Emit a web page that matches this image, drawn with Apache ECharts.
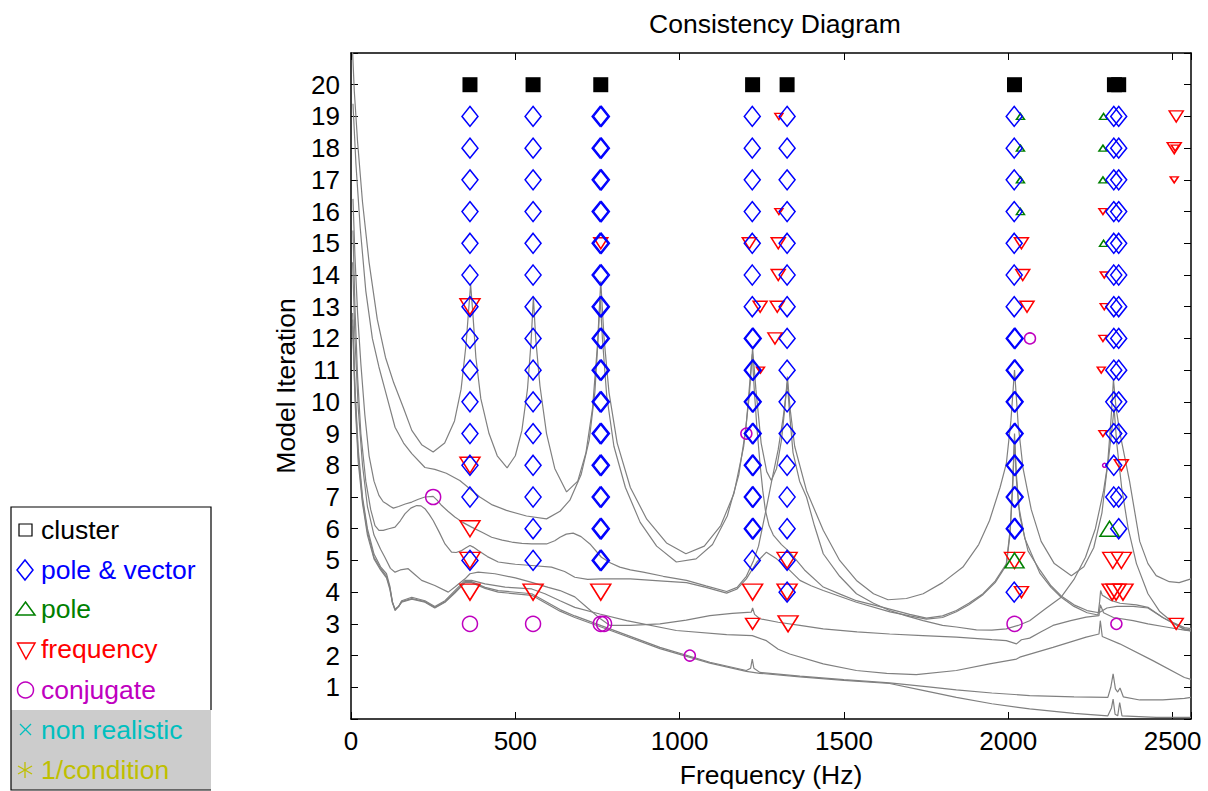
<!DOCTYPE html>
<html><head><meta charset="utf-8">
<script src="https://cdn.jsdelivr.net/npm/echarts@6/dist/echarts.min.js"></script>
<style>html,body{margin:0;padding:0;background:#fff}#c{width:1208px;height:791px}</style>
</head><body><div id="c"></div>
<script>
const FONT = '"Liberation Sans", Arial, Helvetica, sans-serif';

// ---- gray FRF curves: [frequency Hz, level in iteration units] ----
const frfCurve1 = [[3,21.5],[10,19.8],[20,18.2],[35,16.3],[55,14.4],[80,12.6],[105,11.4],[130,10.6],[160,9.8],[185,9.1],[215,8.65],[250,8.42],[285,8.7],[315,9.4],[335,10.4],[350,11.8],[358,12.9],[364,13.7],[370,12.9],[380,11.4],[395,10.1],[420,9],[445,8.3],[475,7.92],[500,8.3],[520,9.1],[537,10.4],[548,11.9],[555,13.3],[562,12],[575,10.5],[595,9],[620,7.9],[656,7.16],[690,7.5],[715,8.4],[735,9.8],[750,11.8],[760,13.8],[770,12],[785,10.3],[810,8.7],[850,7.3],[900,6.3],[960,5.55],[1019,5.21],[1075,5.45],[1125,6.1],[1165,7.1],[1195,8.6],[1212,10.2],[1222,11.7],[1232,10.4],[1248,8.7],[1265,7.8],[1279,7.52],[1295,7.9],[1310,8.8],[1321,9.9],[1328,10.8],[1336,9.8],[1350,8.6],[1386,7.2],[1437,5.95],[1487,5.0],[1538,4.37],[1590,3.95],[1634,3.76],[1690,3.8],[1741,3.95],[1800,4.3],[1862,4.79],[1910,5.5],[1943,6.26],[1975,7.3],[1994,8.05],[2008,9.4],[2019,11],[2030,9.3],[2045,7.9],[2070,6.6],[2100,5.6],[2140,4.9],[2192,4.52],[2230,4.8],[2260,5.4],[2285,6.5],[2302,8],[2313,9.5],[2320,10.7],[2328,9.8],[2340,9.0],[2369,7.5],[2400,5.6],[2425,4.9],[2450,4.52],[2490,4.33],[2520,4.3],[2556,4.42]];
const frfCurve2 = [[6,19.4],[15,17.5],[28,15.5],[45,13.5],[65,12],[85,11.1],[103,10.4],[134,9.2],[160,8.7],[185,8.37],[225,7.93],[255,7.87],[290,7.75],[331,7.52],[392,7.0],[430,6.75],[473,6.58],[534,6.4],[595,6.31],[636,6.55],[666,6.9],[700,7.7],[725,8.8],[742,10.3],[752,12],[758,13.3],[765,12],[778,10.2],[800,8.6],[835,7.3],[880,6.2],[930,5.45],[990,4.95],[1050,5.05],[1100,5.5],[1145,6.4],[1180,7.7],[1202,9.2],[1215,10.8],[1221,11.5],[1227,10.4],[1235,9.2],[1245,8.0],[1253,7.2],[1261,6.58],[1272,6.1],[1285,5.8],[1310,5.5],[1335,5.26],[1380,4.7],[1437,4.16],[1490,3.93],[1538,3.73],[1619,3.52],[1700,3.3],[1751,3.18],[1800,3.25],[1842,3.42],[1880,3.65],[1923,3.95],[1960,4.35],[1994,4.89],[2006,6.0],[2014,7.6],[2019,9.0],[2024,7.8],[2032,6.7],[2050,5.7],[2096,4.6],[2130,4.15],[2161,3.84],[2200,3.55],[2240,3.35],[2273,3.28],[2278,3.7],[2281,4.05],[2286,3.9],[2295,3.85],[2310,3.75],[2340,3.65],[2390,3.6],[2425,3.52],[2470,3.2],[2536,2.84],[2556,2.8]];
const frfCurve3 = [[6,16.4],[12,14.6],[20,12.8],[30,11.2],[42,9.6],[55,8.3],[70,7.5],[85,7.05],[98,6.85],[108,6.79],[120,6.7],[129,6.65],[145,6.7],[165,6.78],[185,6.84],[205,6.93],[225,7.0],[250,7.02],[262,6.9],[276,6.73],[295,6.55],[316,6.37],[340,6.2],[367,6.05],[400,5.88],[428,5.73],[460,5.64],[489,5.58],[520,5.54],[550,5.52],[595,5.52],[620,5.62],[636,5.73],[655,5.83],[676,5.86],[700,5.75],[727,5.52],[762,5.1],[790,4.92],[818,4.79],[850,4.7],[889,4.63],[950,4.5],[1021,4.37],[1080,4.2],[1143,4.02],[1175,4.15],[1203,4.5],[1225,5.0],[1240,5.45],[1261,6.5],[1280,7.5],[1300,8.5],[1315,9.5],[1323,10.2],[1328,10.6],[1334,9.7],[1345,8.4],[1365,7.5],[1386,7.0],[1410,6.1],[1437,5.21],[1487,4.5],[1538,3.95],[1590,3.65],[1639,3.42],[1690,3.25],[1741,3.1],[1800,2.95],[1842,2.9],[1903,2.81],[1950,2.8],[1994,2.84],[2030,2.95],[2065,3.1],[2110,3.45],[2161,3.84],[2200,4.4],[2235,5.1],[2265,6.0],[2290,7.2],[2305,8.2],[2316,9.2],[2322,9.8],[2330,8.7],[2345,7.3],[2365,6.0],[2390,4.9],[2425,3.95],[2460,3.4],[2500,3.05],[2536,2.88],[2556,2.85]];
const frfCurve4 = [[6,15.4],[12,13],[20,10.8],[30,9],[45,7.5],[60,6.6],[73,6.1],[85,5.95],[98,5.95],[115,6.0],[134,6.05],[150,6.25],[164,6.47],[182,6.65],[200,6.73],[213,6.72],[225,6.63],[238,6.45],[250,6.26],[268,5.9],[286,5.52],[306,5.26],[320,5.25],[337,5.31],[350,5.4],[362,5.47],[372,5.42],[387,5.31],[415,5.12],[448,4.95],[500,4.88],[550,4.84],[610,4.79],[650,4.65],[681,4.47],[720,4.4],[760,4.42],[850,4.42],[950,4.35],[1021,4.3],[1080,4.15],[1143,3.97],[1175,4.1],[1203,4.42],[1235,4.95],[1264,5.26],[1295,5.05],[1325,4.79],[1366,4.37],[1400,4.2],[1437,4.05],[1538,3.68],[1640,3.38],[1700,3.25],[1751,3.15],[1800,3.2],[1842,3.38],[1880,3.6],[1923,3.92],[1960,4.3],[1994,4.85],[2005,5.8],[2013,7.2],[2019,8.8],[2025,7.5],[2035,6.4],[2060,5.3],[2096,4.7],[2130,4.2],[2161,3.88],[2200,3.6],[2240,3.42],[2276,3.35],[2300,3.5],[2330,3.55],[2380,3.55],[2425,3.5],[2470,3.2],[2536,2.82],[2556,2.78]];
const frfCurve5 = [[5,14.4],[12,12],[22,9.8],[35,8],[50,6.7],[70,5.8],[90,5.35],[103,5.1],[120,4.75],[134,4.63],[150,4.7],[174,4.74],[195,4.55],[215,4.37],[255,4.21],[296,4.0],[316,4.16],[347,4.42],[362,4.58],[387,4.63],[438,4.58],[500,4.45],[550,4.31],[600,4.15],[636,4.05],[681,3.85],[720,3.5],[760,3.15],[788,2.95],[850,2.95],[940,3.0],[1020,3.12],[1092,3.26],[1160,3.33],[1218,3.37],[1222,3.5],[1228,3.3],[1244,3.16],[1300,3.05],[1366,2.95],[1437,2.84],[1540,2.75],[1639,2.68],[1740,2.63],[1842,2.58],[1950,2.5],[1994,2.47],[2025,2.37],[2040,2.5],[2065,2.55],[2100,2.75],[2136,2.95],[2190,3.1],[2237,3.21],[2276,3.26],[2280,3.6],[2290,3.35],[2320,3.2],[2380,3.1],[2425,3.0],[2480,2.9],[2536,2.8],[2556,2.78]];
const frfCurve6 = [[5,12.8],[12,10.5],[22,8.5],[35,7],[50,6],[70,5.2],[90,4.8],[108,4.58],[118,4.2],[126,3.7],[134,3.42],[145,3.55],[154,3.73],[185,3.84],[225,3.73],[255,3.55],[286,3.73],[316,4.05],[347,4.37],[367,4.37],[408,4.26],[469,4.16],[550,4.1],[590,3.95],[636,3.73],[681,3.52],[757,3.31],[839,3.1],[990,2.79],[1143,2.66],[1221,2.63],[1264,2.47],[1300,2.2],[1335,2.05],[1437,1.74],[1538,1.53],[1630,1.44],[1720,1.40],[1842,1.53],[1943,1.74],[2025,1.89],[2035,1.95],[2136,2.26],[2237,2.58],[2276,2.68],[2280,3.1],[2286,2.6],[2339,2.37],[2440,1.84],[2536,1.31],[2556,1.25]];
const frfCurve7 = [[5,12.6],[12,10.3],[22,8.3],[35,6.9],[50,5.9],[70,5.1],[90,4.75],[108,4.5],[118,4.15],[126,3.68],[134,3.45],[145,3.55],[154,3.7],[185,3.8],[225,3.7],[255,3.52],[286,3.7],[316,4.0],[347,4.33],[367,4.33],[408,4.15],[448,4.05],[550,3.95],[636,3.45],[681,3.25],[788,2.84],[940,2.26],[1092,1.79],[1203,1.53],[1216,1.6],[1221,1.89],[1226,1.6],[1244,1.47],[1366,1.35],[1500,1.24],[1639,1.14],[1750,1.02],[1842,0.92],[1950,0.82],[2065,0.74],[2200,0.7],[2303,0.68],[2312,1.0],[2319,1.42],[2326,0.95],[2333,0.85],[2340,0.98],[2350,0.7],[2400,0.6],[2470,0.6],[2536,0.65],[2556,0.68]];
const frfCurve8 = [[5,12.4],[12,10.1],[22,8.1],[35,6.8],[50,5.8],[70,5.05],[90,4.7],[108,4.45],[118,4.1],[126,3.66],[134,3.47],[145,3.55],[154,3.68],[185,3.78],[225,3.68],[255,3.5],[286,3.68],[316,3.97],[347,4.3],[367,4.3],[408,4.12],[448,4.0],[550,3.9],[636,3.4],[681,3.2],[788,2.8],[940,2.22],[1092,1.76],[1203,1.5],[1244,1.44],[1366,1.33],[1500,1.22],[1639,1.12],[1740,0.9],[1842,0.68],[1950,0.48],[2065,0.32],[2200,0.18],[2303,0.1],[2314,0.35],[2319,0.63],[2325,0.15],[2333,0.1],[2339,0.52],[2346,0.1],[2450,0.05],[2556,0.05]];

// ---- markers: [frequency Hz, model iteration] ----
const clusterPoints = [[362,20],[554,20],[760,20],[1222,20],[1327,20],[2019,20],[2323,20],[2336,20]];
const poleVectorColumns = [
  [362,  [19,18,17,16,15,14,13,12,11,10,9,8,7,5]],
  [554,  [19,18,17,16,15,14,13,12,11,10,9,8,7,6,5]],
  [758,  [19,18,17,16,15,14,13,12,11,10,9,8,7,6,5]],
  [762,  [19,18,17,16,15,14,13,12,11,10,9,8,7,6,5]],
  [1221, [19,18,17,16,15,14,13,12,11,10,9,8,7,6,5]],
  [1224, [12,11,10,9,8,7,6]],
  [1327, [19,18,17,16,15,14,13,12,11,10,9,8,7,6,5,4]],
  [2018, [19,18,17,16,15,14,13,12,11,10,9,8,7,6,4]],
  [2021, [12,11,10,9,8,7,6]],
  [2321, [19,18,17,16,15,14,13,12,11,10,9,8,7]],
  [2336, [19,18,17,16,15,14,13,12,11,10,9,7,6]]
];
const poleLarge = [[2019,5],[2308,6]];
const poleSmall = [[2037,19],[2037,18],[2037,17],[2037,16],[2290,19],[2288,18],[2288,17],[2290,15]];
const freqLarge = [[362,13],[362,8],[362,6],[362,5],[362,4],[554,4],[760,4],[1222,4],[1327,5],[1327,4],[1330,3],[2019,5],[2318,5],[2344,5],[2316,4],[2328,4],[2349,4]];
const freqMedium = [[760,15],[1212,15],[1245,13],[1222,3],[1300,15],[1300,14],[1297,13],[1290,12],[2040,15],[2044,14],[2057,13],[2040,4],[2344,8],[2511,19],[2505,18],[2511,3]];
const freqSmall = [[1246,11],[1302,19],[1302,16],[2288,16],[2292,14],[2292,13],[2288,12],[2283,11],[2288,9],[2508,18],[2505,17]];
const conjLarge = [[250,7],[362,3],[554,3],[760,3],[770,3],[2019,3]];
const conjMedium = [[1031,2],[1203,9],[2066,12],[2329,3]];
const conjTiny = [[2293,8]];

const legendLabels = ['cluster','pole & vector','pole','frequency','conjugate','non realistic','1/condition'];
const legendColors = ['#000000','#0000ff','#008000','#ff0000','#bf00bf','#00bfbf','#bfbf00'];

const poleVectorPoints = [];
poleVectorColumns.forEach(([f, rows]) => rows.forEach(r => poleVectorPoints.push([f, r])));

const curves = [frfCurve1,frfCurve2,frfCurve3,frfCurve4,frfCurve5,frfCurve6,frfCurve7,frfCurve8];
const series = curves.map((c, i) => ({
  type: 'line', name: 'frf' + (i + 1), data: c, symbol: 'none', silent: true, z: 1,
  lineStyle: { color: '#808080', width: 1.2 }, emphasis: { disabled: true }, animation: false
}));
function hollow(data, symbol, size, color, rot, z) {
  return { type: 'scatter', data, symbol, symbolSize: size, symbolRotate: rot || 0, silent: true, z: z,
    itemStyle: { color: 'rgba(0,0,0,0)', borderColor: color, borderWidth: 1.5, opacity: 1 },
    emphasis: { disabled: true }, animation: false };
}
series.push(hollow(freqLarge, 'triangle', [20, 16], '#ff0000', 180, 3));
series.push(hollow(freqMedium, 'triangle', [14, 11], '#ff0000', 180, 3));
series.push(hollow(freqSmall, 'triangle', [8, 6], '#ff0000', 180, 3));
series.push(hollow(conjLarge, 'circle', 15, '#bf00bf', 0, 4));
series.push(hollow(conjMedium, 'circle', 11, '#bf00bf', 0, 4));
series.push(hollow(conjTiny, 'circle', 4, '#bf00bf', 0, 4));
series.push(hollow(poleLarge, 'triangle', [19, 15], '#008000', 0, 5));
series.push(hollow(poleSmall, 'triangle', [8, 6], '#008000', 0, 5));
series.push(hollow(poleVectorPoints, 'diamond', [16, 20], '#0000ff', 0, 6));
series.push({ type: 'scatter', data: clusterPoints, symbol: 'rect', symbolSize: 15, silent: true, z: 7,
  itemStyle: { color: '#000', opacity: 1 }, emphasis: { disabled: true }, animation: false });

const axisCommon = {
  axisLine: { show: true, onZero: false, lineStyle: { color: '#000', width: 1.5 } },
  axisTick: { show: true, inside: true, length: 7, lineStyle: { color: '#000', width: 1 } },
  splitLine: { show: false }
};
const legendY = [530, 570, 609, 649, 690, 730, 770];
const graphics = [
  { type: 'rect', shape: { x: 11, y: 507, width: 200, height: 283 }, style: { fill: '#fff', stroke: null } },
  { type: 'rect', shape: { x: 11, y: 710, width: 200, height: 80 }, style: { fill: '#cccccc' } },
  { type: 'polyline', shape: { points: [[211, 710], [211, 507], [11, 507], [11, 790], [211, 790]] }, style: { stroke: '#000', lineWidth: 1.2, fill: null } },
  { type: 'rect', shape: { x: 19, y: 524, width: 13, height: 12 }, style: { fill: null, stroke: '#000', lineWidth: 1.2 } },
  { type: 'polygon', shape: { points: [[25, 560], [33, 570], [25, 580], [17, 570]] }, style: { fill: null, stroke: '#0000ff', lineWidth: 1.5 } },
  { type: 'polygon', shape: { points: [[25.5, 602], [35, 615], [16, 615]] }, style: { fill: null, stroke: '#008000', lineWidth: 1.5 } },
  { type: 'polygon', shape: { points: [[17.5, 643], [35, 643], [26, 659]] }, style: { fill: null, stroke: '#ff0000', lineWidth: 1.5 } },
  { type: 'circle', shape: { cx: 25.5, cy: 690, r: 8 }, style: { fill: null, stroke: '#bf00bf', lineWidth: 1.5 } },
  { type: 'polyline', shape: { points: [[20, 724], [31, 735]] }, style: { stroke: '#00bfbf', lineWidth: 1.3, fill: null } },
  { type: 'polyline', shape: { points: [[31, 724], [20, 735]] }, style: { stroke: '#00bfbf', lineWidth: 1.3, fill: null } },
  { type: 'polyline', shape: { points: [[25, 762], [25, 778]] }, style: { stroke: '#bfbf00', lineWidth: 1.3, fill: null } },
  { type: 'polyline', shape: { points: [[18, 766], [32, 774]] }, style: { stroke: '#bfbf00', lineWidth: 1.3, fill: null } },
  { type: 'polyline', shape: { points: [[32, 766], [18, 774]] }, style: { stroke: '#bfbf00', lineWidth: 1.3, fill: null } }
];
legendLabels.forEach((t, i) => graphics.push({
  type: 'text', x: 41, y: legendY[i],
  style: { text: t, fill: legendColors[i], font: '26.5px ' + FONT, verticalAlign: 'middle', align: 'left' }
}));

const chart = echarts.init(document.getElementById('c'), null, { renderer: 'svg', width: 1208, height: 791 });
chart.setOption({
  animation: false,
  backgroundColor: '#fff',
  title: { text: 'Consistency Diagram', left: 770, top: 5, textAlign: 'center',
    textStyle: { fontFamily: FONT, fontSize: 26.5, fontWeight: 'normal', color: '#000' } },
  grid: { left: 351, right: 17, top: 53, bottom: 72, containLabel: false, outerBoundsMode: 'none' },
  xAxis: [
    Object.assign({ type: 'value', min: 0, max: 2556, interval: 500, position: 'bottom',
      name: 'Frequency (Hz)', nameLocation: 'middle', nameGap: 42,
      nameTextStyle: { fontFamily: FONT, fontSize: 26.5, color: '#000' },
      axisLabel: { fontFamily: FONT, fontSize: 26, color: '#000', margin: 9,
        formatter: v => (v % 500 === 0 ? String(v) : '') } }, axisCommon),
    Object.assign({ type: 'value', min: 0, max: 2556, interval: 500, position: 'top', axisLabel: { show: false } }, axisCommon)
  ],
  yAxis: [
    Object.assign({ type: 'value', min: 0, max: 21, interval: 1, position: 'left',
      name: 'Model Iteration', nameLocation: 'middle', nameGap: 52,
      nameTextStyle: { fontFamily: FONT, fontSize: 26.5, color: '#000' },
      axisLabel: { fontFamily: FONT, fontSize: 26, color: '#000', margin: 11,
        formatter: v => (v >= 1 && v <= 20 ? String(v) : '') } }, axisCommon),
    Object.assign({ type: 'value', min: 0, max: 21, interval: 1, position: 'right', axisLabel: { show: false } }, axisCommon)
  ],
  series: series,
  graphic: graphics
});
</script></body></html>
